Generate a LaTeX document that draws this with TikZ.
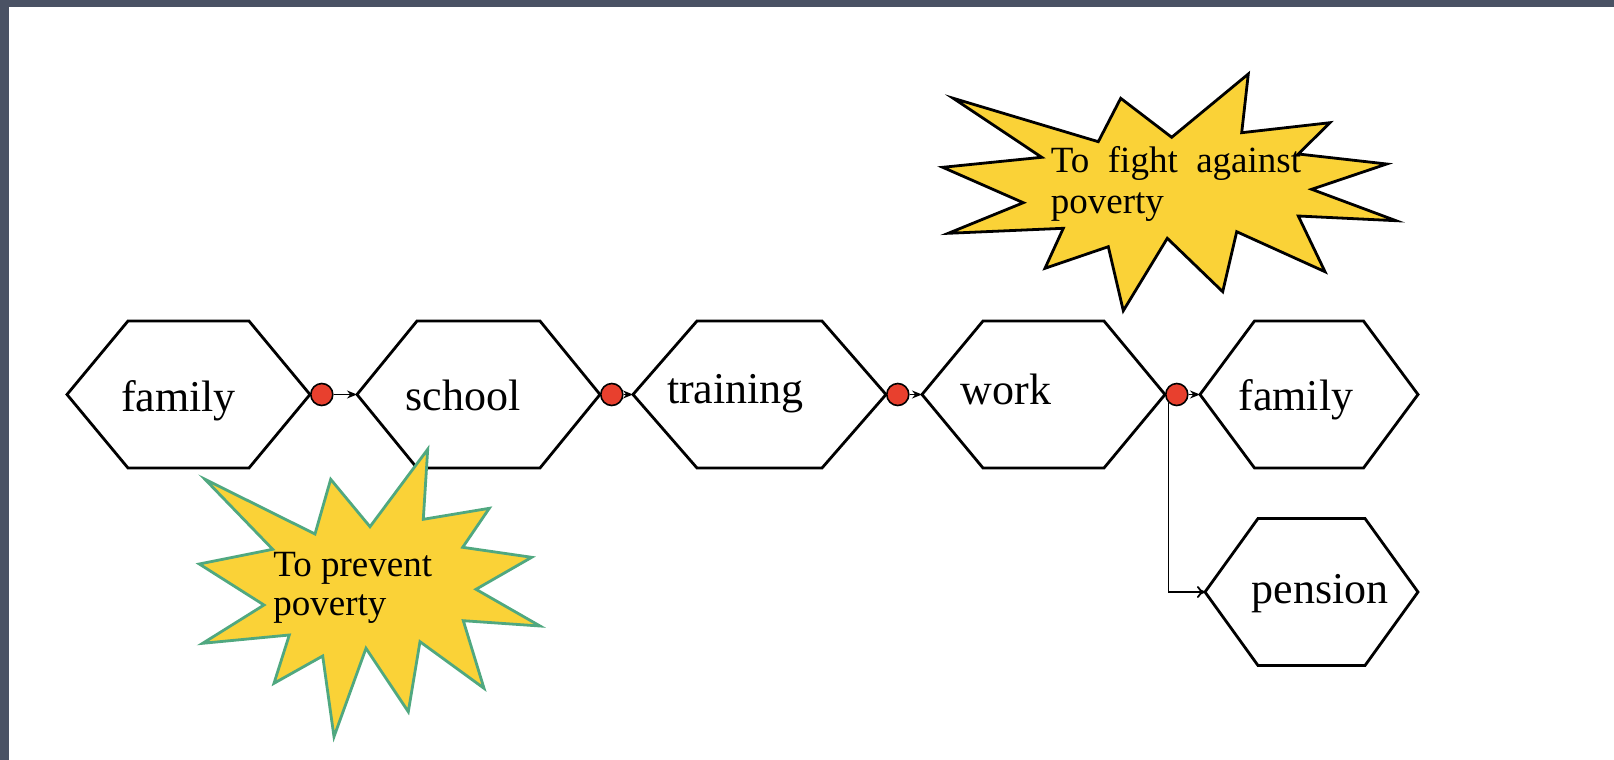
\documentclass[tikz,border=0pt]{standalone}
\usepackage{fontspec}
\setmainfont{Liberation Serif}
\usetikzlibrary{calc,arrows.meta}

\definecolor{burstyellow}{RGB}{250,210,55}
\definecolor{burstgreen}{RGB}{80,168,128}
\definecolor{jointred}{RGB}{232,64,46}
\definecolor{framegray}{RGB}{74,82,100}

\begin{document}
\begin{tikzpicture}[x=0.5pt, y=-0.5pt,
  hexline/.style={line width=1.4pt, line join=miter},
  joint/.style={circle, draw=black, line width=0.8pt, fill=jointred, minimum size=11pt, inner sep=0pt, anchor=west},
  linkarrow/.style={line width=0.9pt, -{Stealth[length=5pt,width=4pt]}},
  hextext/.style={font=\fontsize{22}{26}\selectfont, inner sep=0pt, anchor=base},
  bursttext/.style={font=\fontsize{18.5}{20.5}\selectfont, inner sep=0pt, anchor=base west, align=left}]
%\draw (0,0) rectangle (1614,760);
\fill[white] (0,0) rectangle (1614,760);
\useasboundingbox (0,0) rectangle (1614,760);
\fill[framegray] (0,0) rectangle (1614,7);
\fill[framegray] (0,0) rectangle (8.5,760);

% hexagons: name / centre x / centre y / half width / slant
\foreach \nm/\cx/\cy/\a/\s in {fam/188.5/394.5/121.5/61, sch/478.5/394.5/121.5/60,
    tra/759.5/394.5/126.5/64, wrk/1043.5/394.5/121.5/61,
    famb/1309/394.5/109/54.5, pen/1311.5/592/106.5/53}{
  \coordinate (\nm-w) at (\cx-\a,\cy);
  \coordinate (\nm-e) at (\cx+\a,\cy);
  \draw[hexline] (\nm-w) -- ++(\s,-73.5) -- ($(\nm-e)+(-\s,-73.5)$) -- (\nm-e)
    -- ++(-\s,73.5) -- ($(\nm-w)+(\s,73.5)$) -- cycle;
}

\node[hextext] (famtxt) at (178.5,411) {family};
\node[hextext] (schtxt) at (463,410) {school};
\node[hextext] (tratxt) at (735.5,403) {training};
\node[hextext] (wrktxt) at (1006,404) {work};
\node[hextext] (fambtxt) at (1296,410) {family};
\node[hextext] (pentxt) at (1320,603) {pension};

\node[joint] (j1) at (fam-e) {};
\node[joint] (j2) at (sch-e) {};
\node[joint] (j3) at (tra-e) {};
\node[joint] (j4) at (wrk-e) {};

\draw[linkarrow] (j1) -- (sch-w);
\draw[linkarrow] (j2) -- (tra-w);
\draw[linkarrow] (j3) -- (wrk-w);
\draw[linkarrow] (j4) -- (famb-w);
\draw[line width=0.9pt, -{To[length=4pt,width=6pt]}] (j4.south west) |- (pen-w);

% bursts
\draw[fill=burstyellow, draw=burstgreen, line width=1.4pt, line join=miter]
  (205,479.3) -- (315,534) -- (330.7,479.3) -- (370,526.7) -- (427.7,449.3)
  -- (423.3,519.3) -- (489.3,508.3) -- (462.7,547.3) -- (531.7,557.3)
  -- (476,589.3) -- (540,626) -- (463.3,620.7) -- (484,688.3) -- (420,641.7)
  -- (408.3,711.7) -- (366,648.3) -- (334,736.7) -- (322.7,656) -- (274,683.3)
  -- (289.3,635) -- (202.7,643.3) -- (264,605) -- (199.3,564) -- (272.7,549.3) -- cycle;
\draw[fill=burstyellow, draw=black, line width=1.4pt, line join=miter]
  (953.3,98.3) -- (1098.3,141.7) -- (1120.7,98.3) -- (1171.7,137.3) -- (1248.3,74)
  -- (1241.7,132.7) -- (1330,122.7) -- (1298.3,154) -- (1386.7,164)
  -- (1311.7,189.3) -- (1396,220.7) -- (1298.3,216) -- (1325,271.7) -- (1236.7,231.7)
  -- (1222.7,291.7) -- (1167.3,238.3) -- (1123.3,310.7) -- (1108.3,246.7) -- (1045,268.3)
  -- (1063.3,228.3) -- (948.3,233.3) -- (1023.3,202.7) -- (942.7,167.3) -- (1041.7,157.3) -- cycle;

\node[bursttext] (fighttxt) at (1050.5,213) {To\hspace{0.5em}fight\hspace{0.5em}against\\poverty};
\node[bursttext, font=\fontsize{18.5}{19.2}\selectfont] (preventtxt) at (273,615) {To prevent\\poverty};

\end{tikzpicture}
\end{document}
